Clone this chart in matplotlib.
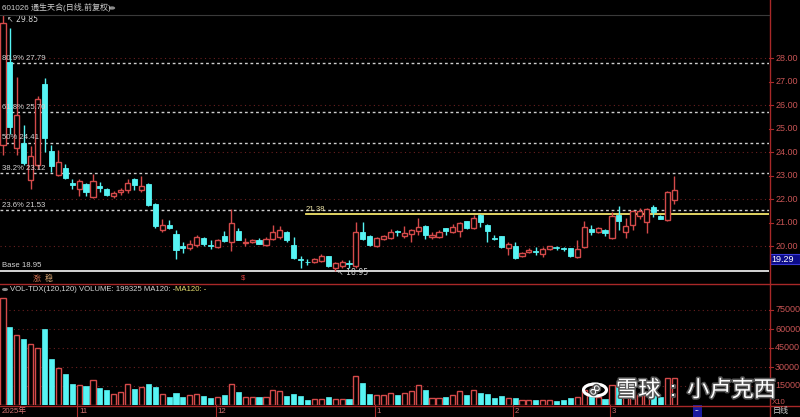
import matplotlib
matplotlib.use("Agg")
import matplotlib.pyplot as plt
import matplotlib.patheffects as pe
from matplotlib.patches import Rectangle, Circle
from matplotlib.lines import Line2D

plt.rcParams['font.family'] = ['Liberation Sans', 'Noto Sans CJK SC', 'DejaVu Sans']

# ============================================================
# DATA
# ============================================================
opens = [24.30, 27.85, 24.20, 24.40, 22.83, 23.47, 26.90, 24.05, 23.05, 23.35,
         22.70, 22.45, 22.65, 22.10, 22.55, 22.45, 22.15, 22.33, 22.40, 22.85,
         22.40, 22.65, 21.80, 20.70, 20.92, 20.52, 20.00, 19.92, 20.05, 20.36,
         20.07, 19.97, 20.43, 20.18, 20.65, 20.15, 20.18, 20.27, 20.05, 20.30,
         20.40, 20.62, 20.05, 19.47, 19.35, 19.33, 19.38, 19.58, 19.10, 19.15,
         19.30, 19.15, 20.60, 20.45, 20.00, 20.30, 20.35, 20.66, 20.43, 20.52,
         20.65, 20.86, 20.38, 20.40, 20.78, 20.60, 20.65, 21.08, 20.78, 21.33,
         20.90, 20.37, 20.43, 19.92, 20.00, 19.58, 19.75, 19.82, 19.67, 19.88,
         19.94, 19.93, 19.92, 19.54, 19.97, 20.73, 20.60, 20.70, 20.35, 21.33,
         20.60, 20.90, 21.29, 21.03, 21.68, 21.30, 21.12, 21.97]
highs = [29.85, 29.30, 27.20, 25.15, 24.28, 26.40, 27.15, 24.30, 24.10, 23.50,
         22.85, 22.85, 22.70, 23.10, 22.75, 22.50, 22.35, 22.50, 22.87, 22.90,
         23.00, 22.70, 21.85, 21.16, 21.12, 20.70, 20.18, 20.25, 20.50, 20.40,
         20.25, 20.32, 20.65, 21.60, 20.78, 20.35, 20.30, 20.35, 20.40, 20.90,
         20.85, 20.65, 20.40, 19.60, 19.45, 19.50, 19.68, 19.60, 19.35, 19.40,
         19.40, 21.05, 21.05, 20.50, 20.40, 20.48, 20.73, 20.68, 20.86, 20.75,
         21.20, 20.90, 20.60, 20.70, 20.80, 20.95, 21.05, 21.10, 21.33, 21.38,
         20.95, 20.50, 20.45, 20.20, 20.18, 19.75, 19.95, 19.98, 19.98, 20.02,
         20.00, 19.97, 19.95, 20.26, 21.08, 20.90, 20.82, 20.75, 21.45, 21.72,
         21.20, 21.55, 21.63, 21.62, 21.76, 21.33, 22.37, 23.00]
lows = [23.90, 24.80, 23.90, 23.45, 22.44, 23.30, 24.00, 23.15, 23.00, 22.85,
        22.45, 22.15, 22.15, 22.05, 22.30, 22.15, 22.05, 22.20, 22.25, 22.40,
        22.30, 21.70, 20.78, 20.60, 20.72, 19.45, 19.70, 19.85, 19.98, 20.00,
        19.90, 19.95, 20.20, 19.80, 20.25, 20.00, 20.15, 20.08, 20.00, 20.28,
        20.30, 20.20, 19.45, 19.07, 19.20, 19.30, 19.35, 19.12, 18.95, 19.10,
        19.10, 19.10, 20.28, 20.00, 19.98, 20.25, 20.32, 20.42, 20.35, 20.18,
        20.50, 20.30, 20.30, 20.35, 20.50, 20.55, 20.40, 20.75, 20.75, 20.82,
        20.18, 20.25, 19.95, 19.63, 19.48, 19.55, 19.70, 19.65, 19.55, 19.85,
        19.85, 19.80, 19.55, 19.52, 19.95, 20.48, 20.55, 20.43, 20.33, 20.69,
        20.35, 20.70, 21.15, 20.56, 21.25, 21.15, 21.10, 21.80]
closes = [29.50, 25.10, 25.60, 23.55, 23.85, 26.29, 24.60, 23.40, 23.60, 22.90,
          22.60, 22.80, 22.30, 22.80, 22.50, 22.20, 22.28, 22.38, 22.70, 22.60,
          22.57, 21.76, 20.86, 20.90, 20.78, 19.84, 19.95, 20.10, 20.40, 20.08,
          20.03, 20.27, 20.22, 21.00, 20.27, 20.20, 20.27, 20.10, 20.30, 20.60,
          20.70, 20.26, 19.50, 19.43, 19.32, 19.47, 19.58, 19.15, 19.28, 19.33,
          19.27, 20.60, 20.30, 20.05, 20.35, 20.43, 20.60, 20.63, 20.56, 20.70,
          20.82, 20.48, 20.47, 20.60, 20.65, 20.82, 21.00, 20.78, 21.20, 21.03,
          20.65, 20.33, 19.97, 20.10, 19.50, 19.72, 19.85, 19.78, 19.88, 20.00,
          19.92, 19.90, 19.58, 19.88, 20.82, 20.60, 20.78, 20.56, 21.29, 21.08,
          20.86, 21.50, 21.50, 21.59, 21.46, 21.16, 22.32, 22.40]
volumes = [84700, 61800, 55300, 52400, 47900, 44700, 59700, 36000, 29000, 24200,
           16300, 15500, 15000, 19500, 13700, 11600, 8900, 10300, 16800, 12400,
           14500, 16300, 14200, 8900, 6300, 9700, 6300, 7600, 8400, 7100,
           5300, 6600, 7600, 16800, 10500, 6300, 6300, 6300, 6600, 11800,
           11000, 7100, 8400, 7100, 3900, 4500, 4500, 6300, 4500, 4500,
           5000, 22900, 17600, 8400, 7900, 7600, 9200, 7600, 9200, 11000,
           15800, 11800, 5800, 5800, 6300, 7900, 11000, 7600, 11800, 9700,
           8900, 5800, 7100, 5800, 5800, 3900, 3900, 3900, 3700, 3700,
           3200, 3700, 5300, 6600, 12000, 7000, 6000, 5000, 16000, 14000,
           8000, 11000, 8000, 10000, 9000, 6000, 21000, 21300]

fib_labels = ["80.9%", "61.8%", "50%", "38.2%", "23.6%"]
fib_levels = [27.79, 25.70, 24.41, 23.12, 21.53]
base_level = 18.95
top_level = 29.85
mark_level = 21.38
price_ticks = [20, 21, 22, 23, 24, 25, 26, 27, 28]
vol_ticks = [15000, 30000, 45000, 60000, 75000]
month_labels = ["2025年", "11", "12", "1", "2", "3"]
month_starts = [0, 11, 31, 54, 74, 88]

# ============================================================
# STYLE / LAYOUT (pixels)
# ============================================================
W, H = 800, 417
RED = '#d44a4a'
CYAN = '#56f4f4'
AXIS_RED = '#a82828'
LABEL_RED = '#c85454'
GRID_RED = '#6a2020'
TXT = '#d6d6d6'
BAR_PX, BAR0_PX = 6.92, 3.0
RIGHT_PX = 769
FS = 6.5     # axis labels
FS_IN = 5.6  # in-chart labels

fig = plt.figure(figsize=(W / 100, H / 100), dpi=100, facecolor='black')


def px_axes(x0, y0, x1, y1):
    ax = fig.add_axes([x0 / W, 1 - y1 / H, (x1 - x0) / W, (y1 - y0) / H])
    ax.set_facecolor('black')
    ax.set_axis_off()
    ax.set_xlim(-BAR0_PX / BAR_PX, (RIGHT_PX - BAR0_PX) / BAR_PX)
    return ax


def fx(px):
    return px / W


def fy(py):
    return 1 - py / H


n = len(opens)
xs = list(range(n))
ups = [c >= o for o, c in zip(opens, closes)]

# ---------------- price panel ----------------
PY0, PY1 = 14, 276
PPU = 23.5
ax = px_axes(0, PY0, RIGHT_PX, PY1)
ymax = fib_levels[0] + (63.3 - PY0) / PPU
ax.set_ylim(ymax - (PY1 - PY0) / PPU, ymax)
ytr = ax.get_yaxis_transform()

for p in [20, 22, 24, 26, 28]:
    ax.axhline(p, color=GRID_RED, lw=0.8, ls=(0, (1, 3)), zorder=1)
for lab, lev in zip(fib_labels, fib_levels):
    ax.axhline(lev, color='#cfcfcf', lw=1.0, ls=(0, (2, 2)), zorder=1)
    ax.text(2 / RIGHT_PX, lev + 0.06, f"{lab} {lev:.2f}", transform=ytr,
            color=TXT, fontsize=FS_IN, va='bottom', ha='left', zorder=5)
ax.axhline(base_level, color='#e6e6e6', lw=1.3, zorder=1)
ax.text(2 / RIGHT_PX, base_level + 0.1, f"Base {base_level:.2f}", transform=ytr,
        color=TXT, fontsize=FS_IN, va='bottom', ha='left')
x_mark = (306 - BAR0_PX) / BAR_PX
ax.plot([x_mark, ax.get_xlim()[1]], [mark_level, mark_level], color='#f2e46a', lw=1.3, zorder=2)
ax.text(x_mark, mark_level + 0.06, f"{mark_level:.2f}", color='#ece4a8', fontsize=FS_IN, va='bottom')

body_w = 0.74
for i in xs:
    o, h, l, c = opens[i], highs[i], lows[i], closes[i]
    col = RED if ups[i] else CYAN
    ax.plot([i, i], [l, h], color=col, lw=1.0, zorder=3, solid_capstyle='butt')
    lo, hi = min(o, c), max(o, c)
    if hi - lo < 0.03:
        ax.plot([i - body_w / 2, i + body_w / 2], [o, o], color=col, lw=1.2, zorder=4)
    elif ups[i]:
        ax.add_patch(Rectangle((i - body_w / 2, lo), body_w, hi - lo, facecolor='black',
                               edgecolor=col, lw=1.0, zorder=4))
    else:
        ax.add_patch(Rectangle((i - body_w / 2, lo), body_w, hi - lo, facecolor=col,
                               edgecolor=col, lw=0.6, zorder=4))

ax.text(0.55, top_level - 0.2, "\u2196 29.85", color=TXT, fontsize=FS_IN, va='center', ha='left',
        family=['DejaVu Sans'])
ax.text(48.2, base_level - 0.06, "\u2196 18.95", color=TXT, fontsize=FS_IN, va='center', ha='left',
        family=['DejaVu Sans'])

for p in price_ticks:
    ax.text(1.008, p, f"{p:.2f}", transform=ytr, color=LABEL_RED,
            fontsize=FS, va='center', ha='left', clip_on=False)
    ax.plot([1.0, 1.005], [p, p], transform=ytr, color=AXIS_RED, lw=0.8, clip_on=False)

# current-price marker box
fig.add_artist(Rectangle((fx(769.5), fy(264)), 30.5 / W, 10 / H, transform=fig.transFigure,
                         facecolor='#0c0c88', edgecolor='#3a3ad8', lw=0.8))
fig.text(fx(771), fy(259), "19.29", color='white', fontsize=FS, va='center', ha='left')

# ---------------- volume panel ----------------
VY0, VY1 = 284, 405
vax = px_axes(0, VY0, RIGHT_PX, VY1)
vax.set_ylim(0, (VY1 - VY0) / 19 * 15000)
vtr = vax.get_yaxis_transform()
for v in vol_ticks:
    vax.axhline(v, color=GRID_RED, lw=0.8, ls=(0, (1, 3)), zorder=1)
    vax.text(1.008, v, f"{v}", transform=vtr, color=LABEL_RED,
             fontsize=FS, va='center', ha='left', clip_on=False)
    vax.plot([1.0, 1.005], [v, v], transform=vtr, color=AXIS_RED, lw=0.8, clip_on=False)
vax.text(1.004, 1800, "X10", transform=vtr, color=LABEL_RED,
         fontsize=FS_IN, va='center', ha='left', clip_on=False)
for i in xs:
    if ups[i]:
        vax.add_patch(Rectangle((i - body_w / 2, 0), body_w, volumes[i], facecolor='black',
                                edgecolor=RED, lw=1.0, zorder=3))
    else:
        vax.add_patch(Rectangle((i - body_w / 2, 0), body_w, volumes[i], facecolor=CYAN,
                                edgecolor=CYAN, lw=0.5, zorder=3))

# ---------------- frame lines ----------------
for yy in [283.5, 405.5]:
    fig.add_artist(Line2D([0, 1], [fy(yy), fy(yy)], color=AXIS_RED, lw=1.0))
fig.add_artist(Line2D([fx(RIGHT_PX + 0.5)] * 2, [0, 1], color=AXIS_RED, lw=1.0))
fig.add_artist(Line2D([fx(0), fx(RIGHT_PX)], [fy(14.5), fy(14.5)], color='#3a3a3a', lw=0.8))

# ---------------- header texts ----------------
fig.text(fx(2), fy(8), "601026 通生天合(日线,前复权)", color='#cfcfcf', fontsize=5.8, va='center')
fig.add_artist(Circle((fx(112), fy(8)), 3.2 / W, transform=fig.transFigure, facecolor='#8a8a8a',
                      edgecolor='none'))
fig.text(fx(33), fy(278.5), "涨", color='#d07050', fontsize=5.8, va='center')
fig.text(fx(45), fy(278.5), "稳", color='#d0a070', fontsize=5.8, va='center')
fig.text(fx(241), fy(278.5), "$", color='#e04040', fontsize=5.5, va='center')

fig.add_artist(Circle((fx(5), fy(289.5)), 3.0 / W, transform=fig.transFigure, facecolor='#8a8a8a',
                      edgecolor='none'))
fig.text(fx(10), fy(289.5), "VOL-TDX(120,120) VOLUME: 199325 MA120: -", color='#d6d6d6',
         fontsize=FS_IN, va='center')
fig.text(fx(175), fy(289.5), "MA120: -", color='#e8e070', fontsize=FS_IN, va='center')

# ---------------- date strip ----------------
for lab, s in zip(month_labels, month_starts):
    xp = BAR0_PX + s * BAR_PX
    if s > 0:
        fig.add_artist(Line2D([fx(xp - 2)] * 2, [fy(405), fy(417)], color=AXIS_RED, lw=0.8))
        fig.text(fx(xp), fy(411.5), lab, color='#d07070', fontsize=FS_IN, va='center')
    else:
        fig.text(fx(2), fy(411.5), lab, color='#d07070', fontsize=FS_IN, va='center')
fig.add_artist(Rectangle((fx(693), fy(417)), 9 / W, 12 / H, transform=fig.transFigure,
                         facecolor='#1a1aa0', edgecolor='none'))
fig.text(fx(697.5), fy(410.5), "--", color='white', fontsize=5, va='center', ha='center')
fig.text(fx(773), fy(411.5), "日线", color='#cfcfcf', fontsize=5.8, va='center')

# ---------------- watermark ----------------
stroke = [pe.withStroke(linewidth=2.2, foreground='#555555')]
fig.add_artist(Circle((fx(595), fy(390)), 11.5 / W, transform=fig.transFigure, facecolor='none',
                      edgecolor='white', lw=2.2, path_effects=stroke))
fig.text(fx(595), fy(390), "∞", color='white', fontsize=12, ha='center', va='center',
         rotation=45, path_effects=stroke, family=['DejaVu Sans'])
fig.text(fx(616), fy(391), "雪球", color='white', fontsize=16, va='center', path_effects=stroke)
fig.text(fx(670), fy(391), ":", color='white', fontsize=14, va='center', path_effects=stroke)
fig.text(fx(687), fy(391), "小卢克西", color='white', fontsize=16, va='center', path_effects=stroke)

fig.savefig("out.png", dpi=100, facecolor='black')
